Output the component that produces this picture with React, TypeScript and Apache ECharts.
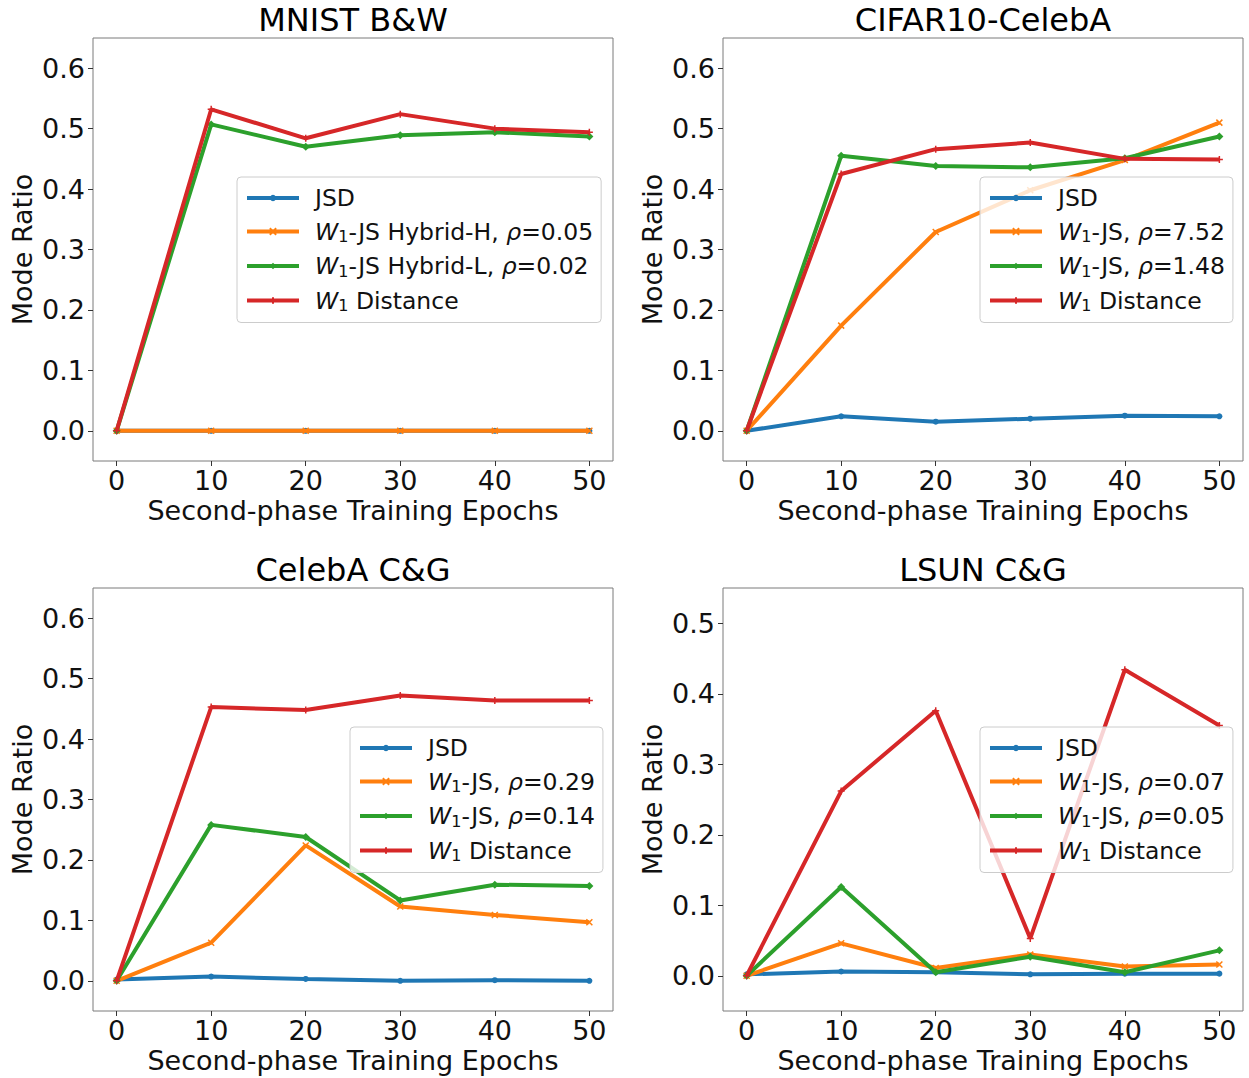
import React, { useEffect, useRef } from "react";
import * as echarts from "echarts";

const epochs = [0, 10, 20, 30, 40, 50];
const yTicks6 = [0, 0.1, 0.2, 0.3, 0.4, 0.5, 0.6];
const yTicks5 = [0, 0.1, 0.2, 0.3, 0.4, 0.5];

const titles = ["MNIST B&W", "CIFAR10-CelebA", "CelebA C&G", "LSUN C&G"];

// MNIST B&W
const mnistNames = ["JSD", "W1-JS Hybrid-H, ρ=0.05", "W1-JS Hybrid-L, ρ=0.02", "W1 Distance"];
const mnistJSD = [0, 0, 0, 0, 0, 0];
const mnistHybH = [0, 0, 0, 0, 0, 0];
const mnistHybL = [0, 0.507, 0.47, 0.489, 0.494, 0.487];
const mnistW1 = [0, 0.532, 0.484, 0.524, 0.5, 0.494];

// CIFAR10-CelebA
const cifarNames = ["JSD", "W1-JS, ρ=7.52", "W1-JS, ρ=1.48", "W1 Distance"];
const cifarJSD = [0, 0.024, 0.015, 0.02, 0.025, 0.024];
const cifarRhoA = [0, 0.174, 0.329, 0.398, 0.448, 0.51];
const cifarRhoB = [0, 0.455, 0.438, 0.436, 0.451, 0.487];
const cifarW1 = [0, 0.425, 0.466, 0.477, 0.45, 0.449];

// CelebA C&G
const celebaNames = ["JSD", "W1-JS, ρ=0.29", "W1-JS, ρ=0.14", "W1 Distance"];
const celebaJSD = [0.002, 0.007, 0.003, 0.0, 0.001, 0.0];
const celebaRhoA = [0, 0.063, 0.224, 0.123, 0.109, 0.097];
const celebaRhoB = [0, 0.258, 0.238, 0.133, 0.159, 0.157];
const celebaW1 = [0, 0.453, 0.448, 0.472, 0.464, 0.464];

// LSUN C&G
const lsunNames = ["JSD", "W1-JS, ρ=0.07", "W1-JS, ρ=0.05", "W1 Distance"];
const lsunJSD = [0.002, 0.006, 0.005, 0.002, 0.003, 0.003];
const lsunRhoA = [0, 0.046, 0.011, 0.03, 0.013, 0.016];
const lsunRhoB = [0, 0.126, 0.005, 0.027, 0.005, 0.036];
const lsunW1 = [0, 0.262, 0.376, 0.053, 0.434, 0.355];

const COLORS = ["#1f77b4", "#ff7f0e", "#2ca02c", "#d62728"];
const SYMBOLS = [
  "circle",
  "path://M0,0L10,10M10,0L0,10",
  "diamond",
  "path://M5,0L5,10M0,5L10,5",
];
const SYMBOL_SIZES = [6, 6, 8, 7];

const FONT = "DejaVu Sans";
const TEXT_COLOR = "#111";
const SPINE = "#7a7a7a";
const AXIS_FONT = 27;

function richLabel(name: string): string {
  const parts = name.split(/(W1|ρ)/).filter((p) => p.length > 0);
  let out = "{sp| }";
  for (const p of parts) {
    if (p === "W1") out += "{w|W}{s|1}";
    else if (p === "ρ") out += "{w|ρ}";
    else out += "{t|" + p + "}";
  }
  return out;
}

export default function App() {
  const ref = useRef<HTMLDivElement>(null);
  useEffect(() => {
    document.body.style.margin = "0";
    if (!ref.current) return;
    const chart = echarts.init(ref.current, null, { renderer: "svg" });

    const panels = [
      { names: mnistNames, data: [mnistJSD, mnistHybH, mnistHybL, mnistW1], yMax: 0.65, yTicks: yTicks6, legend: [237, 177] },
      { names: cifarNames, data: [cifarJSD, cifarRhoA, cifarRhoB, cifarW1], yMax: 0.65, yTicks: yTicks6, legend: [980, 177] },
      { names: celebaNames, data: [celebaJSD, celebaRhoA, celebaRhoB, celebaW1], yMax: 0.65, yTicks: yTicks6, legend: [350, 727] },
      { names: lsunNames, data: [lsunJSD, lsunRhoA, lsunRhoB, lsunW1], yMax: 0.55, yTicks: yTicks5, legend: [980, 727] },
    ];
    const gridPos = [
      [93, 38],
      [723, 38],
      [93, 588],
      [723, 588],
    ];
    const GW = 520;
    const GH = 423;

    const grids = gridPos.map(([l, t]) => ({
      left: l,
      top: t,
      width: GW,
      height: GH,
      show: true,
      borderColor: SPINE,
      borderWidth: 1,
      backgroundColor: "transparent",
      containLabel: false,
    }));

    const xAxes = panels.map((_, i) => ({
      type: "value",
      gridIndex: i,
      min: -2.5,
      max: 52.5,
      axisLine: { show: false, onZero: false },
      axisTick: { show: true, length: 5, lineStyle: { color: "#333", width: 1 }, customValues: epochs },
      axisLabel: { customValues: epochs, fontSize: AXIS_FONT, color: TEXT_COLOR, margin: 6, fontFamily: FONT },
      splitLine: { show: false },
      name: "Second-phase Training Epochs",
      nameLocation: "middle",
      nameGap: 36,
      nameTextStyle: { fontSize: AXIS_FONT, color: TEXT_COLOR, fontFamily: FONT },
    }));

    const yAxes = panels.map((p, i) => ({
      type: "value",
      gridIndex: i,
      min: -0.05,
      max: p.yMax,
      axisLine: { show: false, onZero: false },
      axisTick: { show: true, length: 5, lineStyle: { color: "#333", width: 1 }, customValues: p.yTicks },
      axisLabel: {
        customValues: p.yTicks,
        formatter: (v: number) => v.toFixed(1),
        fontSize: AXIS_FONT,
        color: TEXT_COLOR,
        margin: 8,
        fontFamily: FONT,
      },
      splitLine: { show: false },
      name: "Mode Ratio",
      nameLocation: "middle",
      nameGap: 57,
      nameTextStyle: { fontSize: AXIS_FONT, color: TEXT_COLOR, fontFamily: FONT },
    }));

    const series: any[] = [];
    panels.forEach((p, i) => {
      p.data.forEach((vals, k) => {
        series.push({
          type: "line",
          name: p.names[k],
          xAxisIndex: i,
          yAxisIndex: i,
          data: epochs.map((x, j) => [x, vals[j]]),
          symbol: SYMBOLS[k],
          symbolSize: SYMBOL_SIZES[k],
          showSymbol: true,
          lineStyle: { width: 4, color: COLORS[k] },
          itemStyle: { color: COLORS[k], borderColor: COLORS[k], borderWidth: k === 1 || k === 3 ? 1.5 : 0 },
          emphasis: { disabled: true },
          z: 2 + k,
        });
      });
    });

    const legends = panels.map((p) => ({
      show: true,
      orient: "vertical",
      left: p.legend[0],
      top: p.legend[1],
      data: p.names,
      itemWidth: 52,
      itemHeight: 8,
      itemGap: 9.5,
      padding: [9, 8, 9, 8],
      backgroundColor: "rgba(255,255,255,0.8)",
      borderColor: "#cccccc",
      borderWidth: 1,
      borderRadius: 4,
      selectedMode: false,
      lineStyle: { width: 4 },
      formatter: (name: string) => richLabel(name),
      textStyle: {
        fontFamily: FONT,
        fontSize: 23.5,
        color: TEXT_COLOR,
        rich: {
          sp: { width: 11, fontSize: 23.5, lineHeight: 26 },
          t: { fontSize: 23.5, lineHeight: 26, fontFamily: FONT, color: TEXT_COLOR },
          w: { fontSize: 23.5, lineHeight: 26, fontFamily: FONT, fontStyle: "italic", color: TEXT_COLOR },
          s: { fontSize: 16, lineHeight: 15, fontFamily: FONT, verticalAlign: "bottom", color: TEXT_COLOR },
        },
      },
      z: 10,
    }));

    const titleCenters = [
      [353, 20],
      [983, 20],
      [353, 570],
      [983, 570],
    ];
    const graphics = titles.map((t, i) => ({
      type: "text",
      x: titleCenters[i][0],
      y: titleCenters[i][1],
      style: {
        text: t,
        font: `32px "${FONT}"`,
        fill: "#000",
        textAlign: "center",
        textVerticalAlign: "middle",
      },
    }));

    chart.setOption({
      animation: false,
      backgroundColor: "#fff",
      textStyle: { fontFamily: FONT },
      grid: grids,
      xAxis: xAxes,
      yAxis: yAxes,
      legend: legends,
      series,
      graphic: graphics,
    });
    return () => chart.dispose();
  }, []);
  return <div ref={ref} style={{ width: 1249, height: 1078 }} />;
}
